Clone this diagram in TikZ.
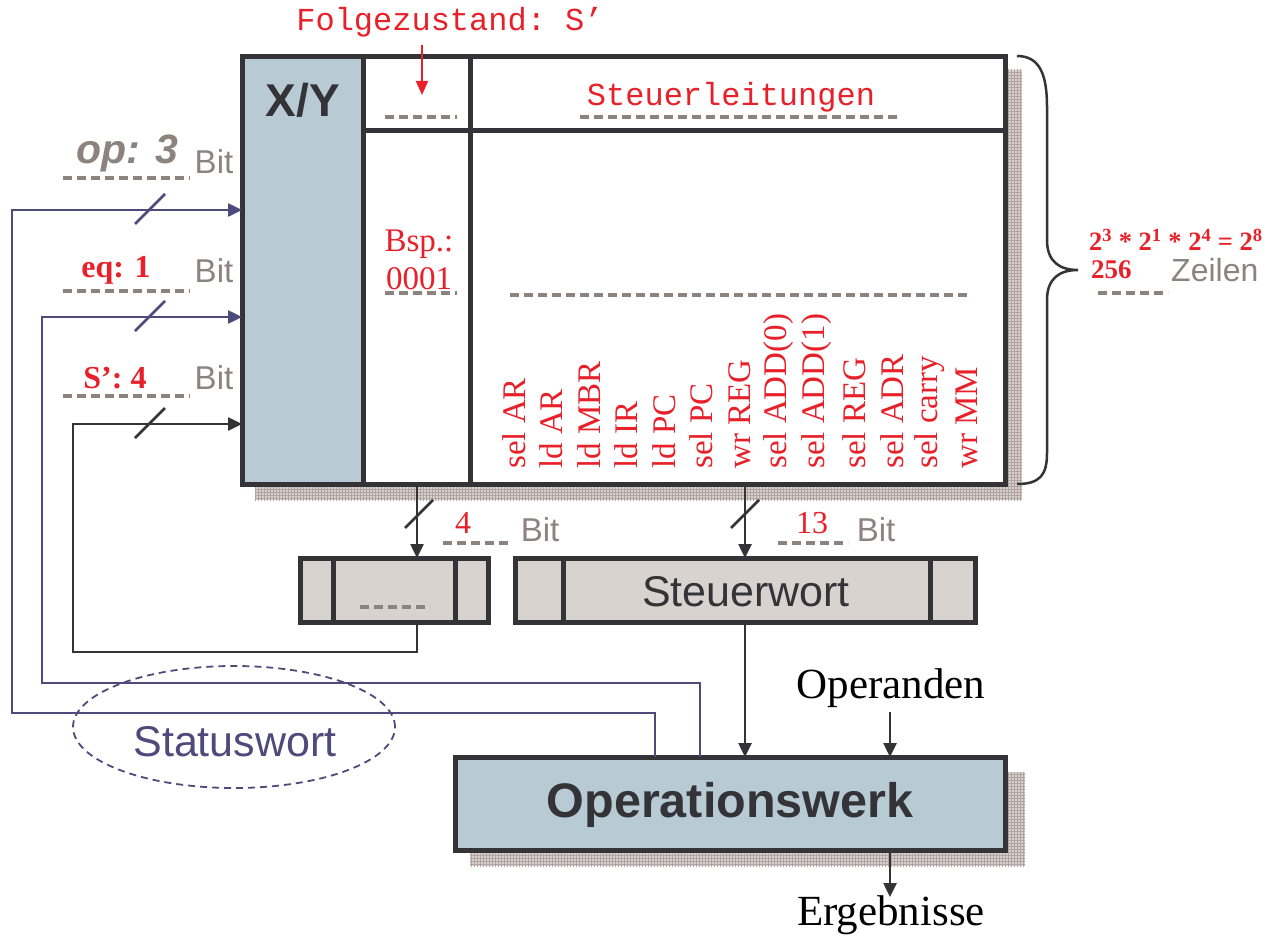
\documentclass[tikz,border=0pt]{standalone}
\usepackage{fontspec}
\setmainfont{Liberation Serif}
\setsansfont{Liberation Sans}
\setmonofont{Liberation Mono}
\usetikzlibrary{arrows.meta,patterns,shapes.geometric}
\definecolor{cred}{HTML}{E8202A}
\definecolor{cgrey}{HTML}{8C837F}
\definecolor{cdark}{HTML}{333338}
\definecolor{cblue}{HTML}{B8CBD5}
\definecolor{creg}{HTML}{D9D3D0}
\definecolor{cpurple}{HTML}{4E4A7C}
\definecolor{cshadow}{HTML}{D8D0CD}
\definecolor{cgrid}{HTML}{B0A5A2}
\newcommand{\fs}[1]{\fontsize{#1}{#1}\selectfont}
\begin{document}
\begin{tikzpicture}[x=1pt,y=-1pt,
  box/.style={draw=cdark,line width=5pt,inner sep=0pt,outer sep=0pt},
  greydash/.style={draw=cgrey,line width=3.5pt,dash pattern=on 9pt off 5pt},
  sig/.style={text=cred,font=\fs{33},inner sep=0pt,rotate=90,anchor=west},
  bit/.style={text=cgrey,font=\sffamily\fs{33},inner sep=0pt},
  redb/.style={text=cred,font=\bfseries\fs{32},inner sep=0pt},
  arr/.style={-{Triangle[length=14pt,width=13pt]}},
  stat/.style={draw=cpurple,line width=2.5pt},
  blk/.style={draw=cdark,line width=2.5pt},
  shadow/.style={fill=cshadow,postaction={pattern=grid,pattern color=cgrid}}
]
\useasboundingbox (0,0) rectangle (1277,939);

% shadows
\fill[shadow] (255,70) rectangle (1022,500);
\fill[shadow] (470,772) rectangle (1025,866);

% ROM table
\node[box,fill=white,minimum width=763pt,minimum height=427pt] (rom) at (623.5,270.5) {};
\fill[cblue] (244.5,59.5) rectangle (363,481.5);
\draw[cdark,line width=5pt] (242,57) rectangle (1005,484);
\draw[cdark,line width=5pt] (363,57) -- (363,484);
\draw[cdark,line width=5pt] (470,57) -- (470,484);
\draw[cdark,line width=5pt] (363,131) -- (1005,131);
\node[text=cdark,font=\sffamily\bfseries\fs{46},inner sep=0pt] (xy) at (303,100) {X/Y};

% top labels
\node[text=cred,font=\ttfamily\fs{32},inner sep=0pt] (folge) at (450,22) {Folgezustand: S’};
\coordinate (folgetip) at (422,95);
\draw[cred,line width=2pt,-{Triangle[length=14pt,width=12pt]}] (422,45) -- (folgetip);
\draw[greydash] (385,117) -- (457,117);
\node[text=cred,font=\ttfamily\fs{32},inner sep=0pt] (steuerl) at (731,97) {Steuerleitungen};
\draw[greydash] (580,117) -- (897,117);

% Bsp
\node[text=cred,font=\fs{33},inner sep=0pt] (bsp) at (419,244) {Bsp.:};
\node[text=cred,font=\fs{33},inner sep=0pt] (bspv) at (419,279) {0001};
\draw[greydash] (385,293) -- (457,293);
\draw[greydash] (510,295) -- (970,295);

% signal labels
\node[sig] (s1) at (514,469) {sel AR};
\node[sig] (s2) at (551,469) {ld AR};
\node[sig] (s3) at (589,469) {ld MBR};
\node[sig] (s4) at (626,469) {ld IR};
\node[sig] (s5) at (664,469) {ld PC};
\node[sig] (s6) at (701,469) {sel PC};
\node[sig] (s7) at (740,469) {wr REG};
\node[sig] (s8) at (779,469) {sel ADD(0)};
\node[sig] (s9) at (817,469) {sel ADD(1)};
\node[sig] (s10) at (854,469) {sel REG};
\node[sig] (s11) at (892,469) {sel ADR};
\node[sig] (s12) at (930,469) {sel carry};
\node[sig] (s13) at (967,469) {wr MM};

% brace
\draw[cdark,line width=2.5pt] (1017,56) .. controls (1040,56) and (1047,75) .. (1047,107) -- (1047,240) .. controls (1047,262) and (1060,270) .. (1078,270) .. controls (1060,270) and (1047,278) .. (1047,300) -- (1047,453) .. controls (1047,475) and (1040,484) .. (1017,484);
\node[redb,font=\bfseries\fs{26.5},anchor=west] (formula) at (1089,240) {2\textsuperscript{3} * 2\textsuperscript{1} * 2\textsuperscript{4} = 2\textsuperscript{8}};
\node[redb,font=\bfseries\fs{27},anchor=west] (z256) at (1091,270) {256};
\node[bit,font=\sffamily\fs{32},anchor=west] (zeilen) at (1171,270) {Zeilen};
\draw[greydash] (1098,293) -- (1168,293);

% left labels
\node[text=cgrey,font=\sffamily\bfseries\itshape\fs{41},inner sep=0pt] (op) at (127,153) {op: 3};
\node[bit] (bit1) at (214,162) {Bit};
\draw[greydash] (63,178) -- (190,178);
\node[redb] (eq) at (116,270) {eq: 1};
\node[bit] (bit2) at (214,271) {Bit};
\draw[greydash] (63,291) -- (190,291);
\node[redb] (sp) at (115,378) {S’: 4};
\node[bit] (bit3) at (214,378) {Bit};
\draw[greydash] (63,396) -- (190,396);

% registers
\node[box,fill=creg,minimum width=188pt,minimum height=64pt] (reg) at (394,590) {};
\draw[cdark,line width=5pt] (333,558) -- (333,622);
\draw[cdark,line width=5pt] (455,558) -- (455,622);
\draw[greydash] (360,607) -- (430,607);
\node[box,fill=creg,minimum width=460pt,minimum height=64pt] (sw) at (745,590) {};
\draw[cdark,line width=5pt] (563,558) -- (563,622);
\draw[cdark,line width=5pt] (930,558) -- (930,622);
\node[text=cdark,font=\sffamily\fs{43},inner sep=0pt] (swt) at (746,592) {Steuerwort};

% ROM -> registers
\coordinate (romA) at (417,486);
\coordinate (regT) at (417,558);
\coordinate (romB) at (745,486);
\coordinate (swT) at (745,558);
\draw[blk,arr] (romA) -- (regT);
\draw[blk,arr] (romB) -- (swT);
\draw[blk] (405,528) -- (433,500);
\draw[blk] (731,528) -- (759,500);
\node[text=cred,font=\fs{32},inner sep=0pt] (n4) at (463,523) {4};
\draw[greydash] (443,543) -- (512,543);
\node[bit] (bit4) at (540,530) {Bit};
\node[text=cred,font=\fs{32},inner sep=0pt] (n13) at (812,523) {13};
\draw[greydash] (778,543) -- (848,543);
\node[bit] (bit5) at (876,530) {Bit};

% Operationswerk
\node[box,fill=cblue,minimum width=550pt,minimum height=93pt] (ow) at (730,804) {};
\node[text=cdark,font=\sffamily\bfseries\fs{48.5},inner sep=0pt] (owt) at (730,805) {Operationswerk};
\node[text=black,font=\fs{43},inner sep=0pt] (opnd) at (891,688) {Operanden};
\node[text=black,font=\fs{43},inner sep=0pt] (erg) at (891,915) {Ergebnisse};
\coordinate (owT1) at (745,757);
\coordinate (owT2) at (890,757);
\coordinate (owB) at (890,851);
\coordinate (swB) at (745,622);
\coordinate (opndB) at (890,712);
\coordinate (ergT) at (890,897);
\draw[blk,arr] (swB) -- (owT1);
\draw[blk,arr] (opndB) -- (owT2);
\draw[blk,arr] (owB) -- (ergT);

% feedback / status lines
\coordinate (xyin1) at (242,210);
\coordinate (xyin2) at (242,317);
\coordinate (xyin3) at (242,424);
\coordinate (regB) at (417,622);
\coordinate (owS1) at (655,757);
\coordinate (owS2) at (700,757);
\draw[stat,arr] (owS1) -- (655,713) -- (12,713) -- (12,210) -- (xyin1);
\draw[stat,arr] (owS2) -- (700,683) -- (42,683) -- (42,317) -- (xyin2);
\draw[blk,arr] (regB) -- (417,652) -- (73,652) -- (73,424) -- (xyin3);
\draw[stat] (135,224) -- (165,194);
\draw[stat] (135,331) -- (165,301);
\draw[blk] (135,438) -- (165,408);

% Statuswort
\node[ellipse,draw=cpurple,line width=1.8pt,dash pattern=on 7pt off 5pt,minimum width=322pt,minimum height=122pt] (sell) at (234,727) {};
\node[text=cpurple,font=\sffamily\fs{43},inner sep=0pt] (swort) at (235,742) {Statuswort};
\end{tikzpicture}
\end{document}
